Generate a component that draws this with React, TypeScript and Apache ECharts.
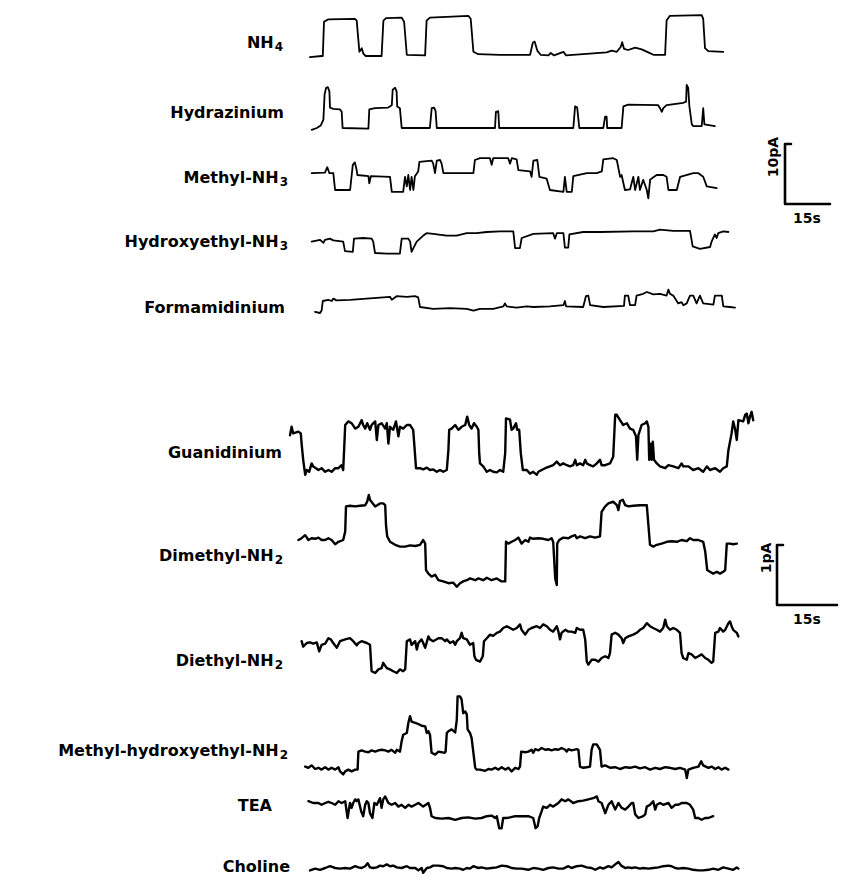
import React, { useEffect, useRef } from "react";
import * as echarts from "echarts";

type Pt = [number, number];

// ---------- Upper group: time (s), current (pA) relative to the closed level ----------
const NH4: Pt[] = [
  [3.3, -0.2], [7.2, 0], [7.6, 0], [8.0, 5.7], [9.4, 6.1], [18.3, 6.2], [18.9, 5.9], [19.8, 0.7],
  [20.6, 1.3], [21.1, 0.4], [21.9, 0], [27.2, 0], [27.8, 5.9], [28.7, 6.3], [33.9, 6.4], [34.7, 5.7],
  [35.6, 0.2], [41.7, 0.1], [42.2, 5.9], [43.3, 6.4], [56.1, 6.7], [56.9, 6.2], [57.8, 0.7], [59.4, 0.3],
  [66.7, 0.2], [76.7, 0.2], [77.6, 2.2], [78.2, 2.4], [79.1, 0.9], [80.2, 0.2], [82.8, 0.1], [83.6, 0.5],
  [84.7, 0.1], [87.8, 0.7], [88.7, 0.1], [102.2, 0.6], [103.9, 0.9], [105.6, 0.7], [106.9, 1.5],
  [107.4, 2.3], [108.0, 1.2], [109.4, 1.0], [111.7, 1.4], [113.9, 1.1], [116.1, 0.6], [117.8, 0.2],
  [121.7, 0.2], [122.2, 5.9], [123.3, 6.7], [133.9, 6.8], [134.4, 6.2], [135.0, 1.3], [136.1, 0.8],
  [141.1, 0.7],
];

const HYDRAZINIUM: Pt[] = [
  [3.9, -0.3], [5.6, 0], [6.9, 0.4], [7.8, 1.4], [8.2, 5.6], [8.7, 6.7], [9.3, 6.8], [9.8, 6.1],
  [10.0, 3.4], [11.1, 3.2], [13.3, 3.1], [13.9, 2.7], [14.2, 0], [22.8, -0.1], [23.1, 3.1], [25.0, 3.3],
  [29.4, 3.4], [30.6, 3.8], [30.9, 6.4], [31.7, 6.7], [32.2, 6.1], [32.4, 3.6], [33.3, 3.3], [33.9, 0],
  [43.3, 0], [43.9, 3.3], [44.7, 3.4], [45.2, 2.8], [45.6, 0], [65.0, 0], [65.3, 2.7], [66.1, 2.8],
  [66.4, 0], [91.1, 0], [91.7, 3.6], [92.4, 3.4], [93.1, 0], [101.1, 0], [101.7, 1.9], [102.2, 1.9],
  [102.4, 0], [107.2, 0], [107.8, 3.6], [109.4, 3.9], [119.4, 3.8], [120.0, 3.3], [120.6, 2.7],
  [121.1, 3.3], [122.2, 3.8], [127.8, 4.2], [128.7, 4.4], [128.9, 7.2], [129.4, 6.7], [129.8, 3.6],
  [130.6, 0.6], [131.1, 0.3], [133.9, 0.3], [134.4, 3.3], [134.8, 0.6], [138.3, 0.3],
];

const METHYL_NH3: Pt[] = [
  [3.9, 2.8], [8.3, 2.9], [9.1, 3.8], [9.8, 2.8], [11.1, 2.8], [11.7, 0], [16.7, 0], [17.6, 4.2],
  [18.3, 4.6], [18.9, 3.3], [19.1, 2.5], [22.8, 2.3], [23.1, 1.1], [23.6, 2.3], [30.0, 2.2], [30.6, -0.3],
  [34.4, -0.3], [35.0, 2.2], [35.6, 0.6], [36.1, 2.5], [36.7, 0], [37.2, 2.2], [37.8, 0], [38.3, 2.3],
  [39.4, 3.1], [39.8, 4.7], [43.9, 4.9], [44.4, 4.4], [45.0, 2.8], [45.6, 4.9], [46.7, 5.0], [47.2, 4.4],
  [47.8, 2.8], [57.8, 2.8], [58.3, 5.0], [60.0, 5.3], [63.3, 5.3], [63.9, 4.2], [64.4, 5.3], [69.4, 5.3],
  [70.0, 4.4], [70.6, 5.3], [72.2, 5.1], [72.8, 3.3], [76.7, 3.1], [77.2, 2.2], [77.8, 4.9], [79.1, 5.0],
  [79.8, 2.2], [82.2, 1.9], [83.3, 0], [87.8, -0.3], [88.3, 2.2], [88.9, -0.3], [90.6, -0.3], [91.1, 2.3],
  [95.6, 2.8], [98.9, 2.8], [100.6, 3.1], [101.1, 5.1], [104.4, 5.3], [105.6, 5.0], [106.7, 2.2],
  [107.2, 2.5], [108.3, 0], [110.0, 0.1], [111.1, 2.2], [111.7, 0], [112.8, 2.2], [113.3, 0], [114.4, 1.7],
  [115.6, 0], [116.1, -1.4], [116.7, 1.7], [117.2, 1.9], [118.9, 2.5], [121.1, 2.5], [122.2, 2.2],
  [122.8, 0], [125.6, 0], [126.7, 2.2], [131.1, 2.8], [132.8, 2.8], [134.4, 2.2], [135.6, 0.6], [138.9, 0.3],
];

const HYDROXYETHYL_NH3: Pt[] = [
  [3.9, 1.9], [6.7, 2.2], [7.8, 1.7], [8.3, 2.2], [10.0, 2.4], [11.1, 2.1], [14.4, 1.9], [15.0, 0.3],
  [17.6, 0.2], [18.0, 2.4], [21.1, 2.5], [23.9, 2.4], [24.4, 1.9], [25.0, 0], [28.9, -0.1], [33.3, -0.1],
  [33.9, 2.4], [36.1, 2.4], [36.7, 1.9], [37.2, 0.2], [37.8, 0.8], [38.9, 1.9], [41.1, 2.9], [42.2, 3.3],
  [44.4, 3.2], [48.9, 2.9], [52.2, 2.9], [55.6, 3.3], [58.9, 3.3], [62.2, 3.5], [66.7, 3.6], [71.1, 3.6],
  [71.7, 0.8], [73.3, 0.8], [73.9, 2.5], [77.8, 3.2], [84.4, 3.3], [85.0, 2.4], [85.6, 3.3], [87.8, 3.3],
  [88.3, 0.9], [89.4, 0.9], [89.8, 3.1], [94.4, 3.5], [100.0, 3.5], [111.1, 3.6], [117.8, 3.6],
  [120.0, 3.9], [124.4, 3.7], [130.0, 3.7], [130.9, 1.1], [133.3, 0.7], [136.7, 1.0], [137.2, 1.9],
  [138.3, 3.1], [138.9, 2.5], [139.4, 3.3], [141.1, 3.6], [142.8, 3.5],
];

const FORMAMIDINIUM: Pt[] = [
  [5.0, -0.8], [6.7, -1.0], [7.2, -0.6], [7.6, 1.0], [9.4, 1.2], [10.6, 1.0], [11.1, 1.4], [12.2, 1.1],
  [16.7, 1.2], [22.2, 1.4], [27.8, 1.6], [30.0, 1.7], [30.6, 1.2], [32.2, 1.8], [35.6, 1.7], [38.3, 1.8],
  [39.4, 1.6], [40.0, 0], [44.4, -0.3], [50.0, -0.2], [55.6, -0.3], [57.8, -0.6], [60.0, -0.3],
  [64.4, -0.3], [67.8, 0.1], [68.3, 0.6], [68.9, 0.1], [72.2, -0.1], [75.6, 0.1], [77.8, 0], [83.3, 0.1],
  [87.8, 0.3], [88.3, 1.0], [88.7, 0.1], [94.4, 0], [95.3, 1.8], [96.1, 1.9], [96.7, 0.3], [101.1, 0],
  [108.0, 0.2], [108.3, 1.9], [109.4, 1.9], [110.0, 0.3], [111.7, 0.3], [112.2, 1.9], [114.4, 2.2],
  [115.6, 2.5], [117.8, 2.1], [120.0, 2.2], [122.2, 1.9], [122.8, 2.9], [123.3, 2.2], [124.4, 1.9],
  [126.1, 0.6], [127.2, 0.8], [127.8, 0.3], [128.9, 0.6], [130.0, 1.9], [131.1, 1.9], [132.2, 0.6],
  [133.3, 1.9], [134.4, 0.6], [137.8, 0.4], [138.3, 1.9], [140.6, 1.9], [141.1, 0.1], [143.3, 0],
  [145.0, -0.1],
];

// ---------- Lower group: time (s), current (pA) ----------
const GUANIDINIUM: Pt[] = [
  [2.5, 0.58], [2.9, 0.72], [3.3, 0.61], [4.6, 0.64], [5.2, 0.61], [5.4, 0.44], [5.8, 0.17], [6.3, -0.08],
  [6.7, 0], [7.3, -0.03], [7.9, 0.11], [8.3, 0.06], [9.0, 0.03], [9.6, 0], [10.4, 0.03], [11.3, -0.03],
  [12.1, 0], [12.9, -0.03], [13.8, 0.03], [14.6, 0.03], [15.4, 0.08], [15.8, 0], [16.1, 0.44], [16.3, 0.75],
  [17.1, 0.81], [17.9, 0.78], [18.8, 0.69], [19.6, 0.72], [20.4, 0.83], [20.8, 0.75], [21.3, 0.69],
  [21.8, 0.78], [22.5, 0.67], [22.9, 0.75], [23.8, 0.81], [24.2, 0.5], [24.6, 0.75], [25.4, 0.78],
  [26.3, 0.69], [26.7, 0.78], [27.1, 0.44], [27.5, 0.72], [28.3, 0.67], [29.0, 0.81], [29.6, 0.56],
  [30.0, 0.72], [30.8, 0.69], [31.7, 0.75], [32.5, 0.75], [33.3, 0.67], [33.8, 0.22], [34.0, 0.03],
  [35.0, 0.03], [35.8, 0.01], [36.7, 0.04], [37.5, 0], [38.3, 0.01], [39.2, -0.03], [40.0, 0], [40.8, -0.03],
  [41.7, 0], [42.1, 0.33], [42.3, 0.67], [42.9, 0.69], [43.8, 0.75], [44.6, 0.67], [45.4, 0.72],
  [46.3, 0.75], [46.8, 0.89], [47.3, 0.75], [47.9, 0.69], [48.5, 0.78], [49.2, 0.72], [49.6, 0.67],
  [49.8, 0.28], [50.0, 0.11], [50.8, 0.06], [51.7, -0.03], [52.5, 0], [53.3, -0.03], [54.2, -0.04],
  [55.0, 0], [55.8, -0.03], [56.3, 0.28], [56.5, 0.86], [57.5, 0.84], [57.9, 0.67], [58.3, 0.69],
  [59.0, 0.78], [59.3, 0.67], [59.8, 0.67], [60.2, 0.28], [60.7, 0], [61.7, 0], [62.5, -0.06],
  [63.3, -0.03], [64.2, -0.08], [64.6, -0.03], [65.4, 0], [66.3, 0.03], [67.5, 0.06], [68.3, 0.08],
  [69.2, 0.14], [70.0, 0.08], [70.8, 0.11], [71.7, 0.08], [72.5, 0.06], [73.3, 0.08], [73.8, 0.17],
  [74.2, 0.08], [75.0, 0.11], [75.8, 0.08], [76.3, 0.17], [76.7, 0.11], [77.5, 0.08], [78.3, 0.06],
  [79.2, 0.11], [80.0, 0.17], [80.4, 0.08], [81.3, 0.08], [82.5, 0.11], [83.3, 0.22], [83.8, 0.92],
  [84.2, 0.92], [85.0, 0.83], [85.8, 0.75], [86.7, 0.78], [87.5, 0.69], [88.3, 0.67], [89.0, 0.56],
  [89.3, 0.17], [89.6, 0.58], [90.4, 0.75], [91.3, 0.78], [91.7, 0.81], [92.1, 0.72], [92.3, 0.17],
  [92.7, 0.44], [92.9, 0.17], [93.2, 0.47], [93.5, 0.17], [94.2, 0.11], [95.0, 0.06], [96.3, 0.03],
  [97.1, 0.08], [98.3, 0.06], [99.6, 0.03], [100.4, 0.11], [100.8, 0.06], [102.1, 0.06], [103.3, 0],
  [104.6, 0.03], [105.8, -0.03], [106.7, 0.06], [107.5, 0], [108.8, 0.03], [110.0, -0.03], [110.8, 0.03],
  [111.7, 0.06], [112.1, 0.33], [112.9, 0.61], [113.3, 0.81], [113.8, 0.67], [114.2, 0.5], [114.6, 0.83],
  [115.8, 0.81], [116.3, 0.92], [116.7, 0.94], [117.1, 0.78], [117.5, 0.89], [117.9, 0.97], [118.3, 0.83],
];

const DIMETHYL_NH2: Pt[] = [
  [4.6, 0], [5.4, 0.03], [6.3, 0.08], [7.1, 0], [7.9, 0.03], [8.8, 0.02], [9.6, 0.04], [10.4, 0],
  [11.3, 0], [12.1, 0.03], [12.9, 0], [13.8, -0.07], [14.6, -0.03], [15.8, 0], [16.3, 0.14], [16.5, 0.56],
  [17.5, 0.57], [18.8, 0.56], [20.0, 0.57], [21.3, 0.58], [21.8, 0.64], [22.2, 0.75], [22.5, 0.67],
  [23.2, 0.61], [23.8, 0.56], [24.3, 0.58], [25.0, 0.61], [25.8, 0.61], [26.3, 0.58], [26.5, 0.25],
  [26.8, 0.06], [27.5, -0.03], [28.8, -0.08], [30.0, -0.11], [31.3, -0.11], [32.5, -0.09], [33.8, -0.1],
  [35.0, -0.08], [35.8, 0], [36.3, -0.06], [36.5, -0.5], [37.1, -0.56], [37.9, -0.61], [38.8, -0.58],
  [39.6, -0.67], [40.8, -0.69], [42.1, -0.72], [43.3, -0.71], [44.2, -0.78], [45.0, -0.72], [45.8, -0.69],
  [46.7, -0.67], [47.5, -0.64], [48.8, -0.67], [49.6, -0.64], [50.8, -0.67], [51.7, -0.63], [52.9, -0.67],
  [54.2, -0.64], [55.4, -0.69], [56.3, -0.69], [56.5, -0.03], [57.1, -0.06], [57.9, -0.03], [58.8, 0],
  [59.6, 0.04], [60.4, -0.06], [61.3, 0], [62.1, -0.03], [62.5, 0.04], [63.3, 0.02], [64.6, 0.03],
  [65.8, 0.02], [67.1, 0], [67.9, 0.03], [68.3, -0.03], [68.8, -0.64], [69.2, -0.75], [69.3, -0.06],
  [69.8, 0], [70.8, 0.04], [72.1, 0.03], [72.9, 0.06], [73.8, 0.08], [74.2, 0.03], [75.0, 0.06],
  [76.3, 0.03], [77.5, 0.06], [78.8, 0.04], [80.0, 0.06], [80.4, 0.47], [81.3, 0.56], [82.1, 0.61],
  [83.3, 0.64], [84.2, 0.58], [84.6, 0.5], [85.0, 0.65], [85.7, 0.67], [86.3, 0.58], [87.1, 0.56],
  [88.3, 0.57], [90.0, 0.58], [91.7, 0.58], [92.1, 0.25], [92.5, -0.08], [93.3, -0.11], [94.2, -0.08],
  [95.4, -0.06], [96.7, -0.03], [97.9, -0.02], [99.2, -0.03], [100.4, 0], [101.7, -0.02], [102.5, 0.03],
  [103.3, 0], [104.6, 0], [105.8, -0.03], [106.3, -0.19], [106.8, -0.5], [107.5, -0.53], [108.3, -0.56],
  [109.2, -0.53], [110.0, -0.56], [110.8, -0.53], [111.3, -0.5], [111.7, -0.06], [112.5, -0.06],
  [113.3, -0.07], [114.2, -0.06],
];

const DIETHYL_NH2: Pt[] = [
  [5.4, 0.03], [5.8, -0.06], [6.7, 0], [7.5, 0.01], [8.3, -0.01], [9.2, 0.01], [9.8, -0.14], [10.4, -0.03],
  [11.3, -0.01], [12.1, 0.08], [12.7, 0.06], [13.3, 0], [14.2, -0.08], [15.0, 0.03], [16.3, 0.06],
  [17.5, 0.08], [18.3, 0.03], [19.2, -0.04], [19.6, 0], [20.4, 0.03], [21.7, 0], [22.5, -0.03],
  [22.9, -0.47], [23.8, -0.5], [24.6, -0.44], [25.4, -0.42], [25.8, -0.33], [26.7, -0.42], [27.5, -0.44],
  [28.3, -0.47], [29.2, -0.5], [30.0, -0.44], [30.8, -0.47], [31.3, -0.44], [31.7, 0.03], [32.5, 0.06],
  [32.9, -0.03], [33.8, 0.03], [34.2, -0.11], [34.6, 0], [35.4, 0.06], [35.8, 0], [36.3, -0.08],
  [37.1, 0.11], [37.5, 0.06], [38.3, 0.03], [39.6, 0.08], [40.4, 0.08], [41.3, 0.03], [41.7, 0.06],
  [42.5, 0], [43.3, 0.03], [43.8, -0.03], [44.2, 0.03], [45.0, 0.08], [45.4, 0.17], [45.8, 0.08],
  [46.7, 0.06], [47.5, -0.03], [48.3, 0], [48.6, -0.22], [49.0, -0.28], [50.0, -0.31], [50.7, -0.22],
  [51.0, 0.03], [51.7, 0.08], [52.5, 0.14], [53.3, 0.12], [54.2, 0.17], [55.0, 0.19], [55.8, 0.25],
  [56.7, 0.28], [57.5, 0.25], [58.3, 0.22], [59.2, 0.25], [60.0, 0.31], [60.4, 0.22], [61.3, 0.14],
  [62.1, 0.22], [62.9, 0.25], [64.2, 0.28], [65.0, 0.25], [65.8, 0.31], [66.7, 0.28], [67.5, 0.22],
  [68.3, 0.19], [69.2, 0.28], [69.6, 0.19], [70.0, 0.06], [70.4, 0.17], [71.3, 0.22], [72.1, 0.19],
  [72.9, 0.19], [73.8, 0.17], [74.2, 0.25], [75.0, 0.22], [75.8, 0.22], [76.3, 0.06], [76.7, -0.31],
  [77.1, -0.36], [77.9, -0.28], [78.8, -0.28], [79.6, -0.31], [80.4, -0.25], [81.3, -0.22], [82.1, -0.25],
  [82.5, -0.17], [82.9, 0.14], [83.8, 0.17], [84.6, 0.14], [85.4, 0.08], [85.8, 0], [86.3, 0.08],
  [87.1, 0.11], [88.3, 0.14], [89.2, 0.17], [90.0, 0.22], [90.8, 0.25], [91.7, 0.33], [92.5, 0.28],
  [93.3, 0.25], [94.2, 0.22], [95.0, 0.19], [95.8, 0.25], [96.3, 0.39], [96.7, 0.28], [97.5, 0.22],
  [98.3, 0.25], [99.2, 0.22], [100.0, 0.17], [100.4, -0.17], [100.8, -0.25], [101.7, -0.28], [102.1, -0.17],
  [102.9, -0.19], [103.8, -0.25], [104.6, -0.22], [105.4, -0.19], [106.3, -0.25], [107.1, -0.28],
  [107.9, -0.33], [108.3, -0.31], [108.8, 0.17], [109.6, 0.19], [110.0, 0.25], [110.8, 0.19], [111.3, 0.22],
  [112.1, 0.33], [112.5, 0.36], [112.9, 0.28], [113.3, 0.22], [114.2, 0.17], [114.6, 0.11],
];

const METHYL_HYDROXYETHYL_NH2: Pt[] = [
  [6.3, 0.04], [7.1, 0.02], [7.9, 0.06], [8.8, 0], [9.6, 0.02], [10.4, -0.01], [11.3, 0.03], [12.1, -0.01],
  [12.9, 0.02], [13.8, -0.01], [14.6, 0.03], [15.0, -0.04], [15.8, -0.09], [16.3, -0.04], [17.1, -0.01],
  [17.9, -0.04], [18.8, -0.01], [19.4, -0.01], [19.6, 0.29], [20.4, 0.31], [21.3, 0.29], [22.1, 0.28],
  [22.9, 0.31], [23.8, 0.29], [24.6, 0.31], [25.4, 0.32], [26.3, 0.31], [27.1, 0.29], [27.9, 0.32],
  [28.8, 0.27], [29.2, 0.32], [30.0, 0.29], [30.4, 0.46], [30.8, 0.57], [31.7, 0.6], [32.1, 0.77],
  [32.5, 0.88], [32.9, 0.79], [33.8, 0.77], [34.6, 0.75], [35.4, 0.72], [36.3, 0.71], [36.7, 0.6],
  [37.1, 0.63], [37.5, 0.57], [37.9, 0.27], [38.8, 0.24], [39.6, 0.29], [40.4, 0.28], [41.1, 0.27],
  [41.4, 0.29], [41.7, 0.6], [42.1, 0.63], [42.9, 0.66], [43.8, 0.61], [44.2, 0.82], [44.4, 1.21],
  [45.0, 1.21], [45.4, 1.16], [45.8, 0.93], [46.3, 0.96], [46.7, 0.91], [46.9, 0.66], [47.5, 0.6],
  [47.9, 0.52], [48.8, 0.02], [49.2, -0.01], [50.0, -0.01], [51.3, -0.03], [52.1, 0], [52.9, -0.01],
  [53.8, 0.02], [54.6, -0.01], [55.4, 0.03], [56.3, -0.01], [57.1, 0.02], [57.9, -0.04], [58.8, 0.02],
  [59.6, 0], [60.0, 0.04], [60.3, 0.29], [61.3, 0.28], [62.1, 0.29], [62.9, 0.32], [63.3, 0.27],
  [63.8, 0.33], [64.6, 0.31], [65.4, 0.35], [66.3, 0.32], [67.1, 0.33], [67.9, 0.31], [68.8, 0.33],
  [69.6, 0.32], [70.4, 0.35], [71.3, 0.32], [71.7, 0.29], [72.1, 0.33], [72.9, 0.31], [74.2, 0.33],
  [74.6, 0.32], [75.0, 0.04], [75.8, 0.02], [76.7, 0.03], [77.5, 0.04], [77.9, 0.32], [78.3, 0.41],
  [79.2, 0.41], [80.0, 0.32], [80.4, 0.04], [81.3, 0.06], [82.5, 0.02], [83.8, 0.03], [85.0, 0],
  [86.3, 0.03], [87.5, 0.02], [88.8, 0.04], [90.0, 0.01], [91.3, 0.03], [92.5, -0.01], [93.8, 0.02],
  [95.0, 0], [96.3, 0.03], [97.5, 0.02], [98.8, 0], [100.0, 0.02], [101.3, -0.01], [101.7, -0.15],
  [102.1, -0.01], [103.3, 0.02], [104.6, 0.04], [105.3, 0.13], [105.8, 0.06], [107.1, 0.02], [107.9, 0.04],
  [108.8, 0], [109.6, 0.03], [110.4, -0.01], [111.3, 0.02], [112.1, -0.01],
];

const TEA: Pt[] = [
  [7.1, 0.28], [8.3, 0.25], [9.6, 0.25], [10.4, 0.22], [11.3, 0.25], [12.1, 0.27], [12.9, 0.25],
  [13.8, 0.22], [14.6, 0.28], [15.4, 0.25], [16.3, 0.28], [16.9, 0], [17.5, 0.25], [17.9, 0.17],
  [18.3, 0.25], [18.8, 0.31], [19.2, 0.28], [19.6, 0.31], [20.3, 0.11], [20.8, 0.03], [21.3, 0.22],
  [21.7, 0.28], [22.1, 0.25], [22.5, 0.08], [23.1, 0], [23.6, 0.25], [24.2, 0.22], [25.0, 0.33],
  [25.4, 0.17], [25.8, 0.31], [26.3, 0.36], [27.1, 0.25], [27.9, 0.22], [28.8, 0.25], [29.6, 0.19],
  [30.4, 0.22], [31.3, 0.17], [32.1, 0.22], [32.9, 0.19], [33.8, 0.22], [34.6, 0.25], [35.8, 0.19],
  [37.1, 0.25], [37.5, 0.17], [37.9, 0.03], [38.8, 0], [40.4, -0.01], [42.1, 0], [43.8, -0.03], [45.4, 0],
  [47.1, 0.01], [48.8, -0.01], [50.4, 0], [51.7, 0.03], [52.9, 0.04], [53.8, 0], [54.2, 0.03],
  [54.8, -0.17], [55.4, -0.17], [55.8, 0], [56.7, 0], [57.5, 0.01], [58.8, 0.03], [60.4, 0.03],
  [62.1, 0.03], [63.3, 0], [63.9, -0.17], [64.4, -0.14], [64.8, 0], [65.4, 0.11], [65.8, 0.19],
  [66.7, 0.17], [67.5, 0.22], [68.3, 0.19], [69.6, 0.25], [70.4, 0.31], [71.3, 0.28], [72.1, 0.31],
  [73.3, 0.25], [74.6, 0.28], [75.8, 0.29], [77.1, 0.31], [78.3, 0.33], [79.2, 0.36], [79.6, 0.28],
  [80.4, 0.25], [81.3, 0.08], [82.1, 0.22], [82.9, 0.28], [83.8, 0.14], [84.6, 0.25], [85.4, 0.17],
  [86.3, 0.14], [87.1, 0.19], [87.9, 0.25], [88.3, 0.25], [88.8, 0.06], [89.6, 0], [90.8, 0.03],
  [91.3, 0.06], [91.7, 0.19], [92.5, 0.22], [93.3, 0.28], [93.8, 0.14], [94.2, 0.22], [95.0, 0.25],
  [95.8, 0.22], [97.1, 0.25], [97.9, 0.17], [98.8, 0.22], [99.6, 0.22], [100.4, 0.25], [101.7, 0.25],
  [102.5, 0.22], [103.3, 0.14], [103.8, 0], [104.6, 0], [105.4, -0.03], [106.3, 0], [107.1, 0],
  [108.3, 0.03],
];

const CHOLINE: Pt[] = [
  [7.5, -0.04], [8.8, -0.01], [10.0, -0.03], [11.3, 0], [12.5, 0.03], [13.8, 0], [15.0, -0.01], [16.3, 0],
  [17.5, -0.01], [18.8, 0.03], [19.6, 0.01], [20.4, 0], [21.3, 0.03], [21.9, 0.08], [22.5, 0.01],
  [23.3, 0], [24.2, 0.01], [25.0, 0.04], [25.8, 0.03], [26.7, 0.06], [27.5, 0.03], [28.3, 0.04],
  [29.2, 0.01], [30.4, 0], [31.7, 0.03], [32.5, 0], [33.8, 0], [34.6, -0.04], [35.4, 0], [35.8, -0.08],
  [36.7, 0], [37.5, 0.01], [38.3, 0.04], [39.6, 0.04], [40.8, 0.03], [41.7, 0], [42.9, -0.01], [43.8, 0],
  [45.0, -0.01], [45.8, -0.03], [46.7, 0], [47.5, -0.01], [48.3, 0.03], [49.6, 0], [50.4, 0.01],
  [51.7, -0.01], [52.9, 0], [54.2, 0.01], [55.4, 0.04], [56.7, 0.03], [57.9, 0], [59.2, -0.01],
  [60.4, -0.01], [62.1, -0.03], [63.3, 0], [64.6, -0.01], [65.8, -0.03], [67.1, 0], [68.3, 0.01],
  [69.6, -0.01], [70.8, -0.01], [72.1, 0.03], [72.9, 0], [74.2, 0.03], [75.4, 0.04], [76.7, 0.01],
  [77.9, 0], [78.8, -0.03], [80.0, 0.01], [80.8, -0.01], [82.1, 0.03], [82.9, 0.01], [83.8, 0.06],
  [84.6, 0.1], [85.3, 0.04], [86.3, 0], [87.1, 0.01], [87.9, 0], [88.8, 0.01], [90.0, -0.01], [90.8, 0],
  [92.1, -0.01], [93.3, 0], [94.6, 0.01], [95.8, 0.03], [97.1, 0.04], [97.9, 0.03], [98.8, 0],
  [99.6, -0.01], [100.8, 0], [102.1, -0.01], [103.3, -0.03], [104.6, -0.04], [105.8, -0.04],
  [107.1, -0.03], [108.3, -0.01], [109.6, -0.03], [110.8, 0.01], [112.1, -0.01], [113.3, -0.03],
  [114.2, 0.01], [114.6, -0.01],
];

// Calibration bars (s, pA)
const UPPER_BAR: Pt[] = [[2, 10], [0, 10], [0, 0], [15, 0]];
const LOWER_BAR: Pt[] = [[1.5, 1], [0, 1], [0, 0], [15, 0]];
const BAR_LABELS = { upper: ["10pA", "15s"], lower: ["1pA", "15s"] };

// Trace names: [main text, subscript]
const UPPER_NAMES: [string, string][] = [
  ["NH", "4"], ["Hydrazinium", ""], ["Methyl-NH", "3"], ["Hydroxyethyl-NH", "3"], ["Formamidinium", ""],
];
const LOWER_NAMES: [string, string][] = [
  ["Guanidinium", ""], ["Dimethyl-NH", "2"], ["Diethyl-NH", "2"], ["Methyl-hydroxyethyl-NH", "2"],
  ["TEA", ""], ["Choline", ""],
];

// ---------- layout ----------
const W = 845;
const H = 880;
const UPPER_PANEL = { x0: 300, pxPerS: 3, pxPerPA: 6, span: 150, range: 10, width: 1.8 };
const LOWER_PANEL = { x0: 280, pxPerS: 4, pxPerPA: 60, span: 120, range: 1.5, width: 2.4 };

const UPPER_ROWS = [
  { data: NH4, base: 56, labelY: 42, labelX: 283 },
  { data: HYDRAZINIUM, base: 128, labelY: 112, labelX: 284 },
  { data: METHYL_NH3, base: 190, labelY: 177, labelX: 288 },
  { data: HYDROXYETHYL_NH3, base: 253, labelY: 241, labelX: 288 },
  { data: FORMAMIDINIUM, base: 307, labelY: 307, labelX: 285 },
];
const LOWER_ROWS = [
  { data: GUANIDINIUM, base: 470, labelY: 452, labelX: 282 },
  { data: DIMETHYL_NH2, base: 540, labelY: 555, labelX: 283 },
  { data: DIETHYL_NH2, base: 643, labelY: 660, labelX: 283 },
  { data: METHYL_HYDROXYETHYL_NH2, base: 769, labelY: 750, labelX: 288 },
  { data: TEA, base: 818, labelY: 805, labelX: 272 },
  { data: CHOLINE, base: 868, labelY: 866, labelX: 290 },
];

const FONT = "'DejaVu Sans', 'Liberation Sans', sans-serif";

export default function App() {
  const ref = useRef<HTMLDivElement>(null);

  useEffect(() => {
    if (!ref.current) return;
    const chart = echarts.init(ref.current, null, { renderer: "svg" });

    const grid: any[] = [];
    const xAxis: any[] = [];
    const yAxis: any[] = [];
    const series: any[] = [];

    const addPlot = (
      data: Pt[],
      left: number,
      top: number,
      width: number,
      height: number,
      xMin: number,
      xMax: number,
      yMin: number,
      yMax: number,
      lineWidth: number
    ) => {
      const i = grid.length;
      grid.push({ left, top, width, height, containLabel: false, show: false });
      xAxis.push({ type: "value", gridIndex: i, min: xMin, max: xMax, show: false });
      yAxis.push({ type: "value", gridIndex: i, min: yMin, max: yMax, show: false });
      series.push({
        type: "line",
        xAxisIndex: i,
        yAxisIndex: i,
        data,
        symbol: "none",
        showSymbol: false,
        clip: false,
        silent: true,
        lineStyle: { color: "#000", width: lineWidth, join: "round", cap: "round" },
      });
    };

    // each trace gets a grid whose rectangle stays inside the canvas,
    // so the panel scale (px per s, px per pA) is kept exactly
    const addTraces = (rows: typeof UPPER_ROWS, p: typeof UPPER_PANEL) => {
      rows.forEach((r) => {
        const up = Math.min(p.range, (r.base - 1) / p.pxPerPA);
        const down = Math.min(p.range, (H - 1 - r.base) / p.pxPerPA);
        addPlot(
          r.data,
          p.x0,
          r.base - up * p.pxPerPA,
          p.span * p.pxPerS,
          (up + down) * p.pxPerPA,
          0,
          p.span,
          -down,
          up,
          p.width
        );
      });
    };
    addTraces(UPPER_ROWS, UPPER_PANEL);
    addTraces(LOWER_ROWS, LOWER_PANEL);

    // calibration bars share their panel's scales
    const upX = 785, upY = 204;
    addPlot(UPPER_BAR, upX, upY - 10 * UPPER_PANEL.pxPerPA, 15 * UPPER_PANEL.pxPerS, 10 * UPPER_PANEL.pxPerPA,
      0, 15, 0, 10, 2.6);
    const loX = 777, loY = 605;
    addPlot(LOWER_BAR, loX, loY - 1 * LOWER_PANEL.pxPerPA, 15 * LOWER_PANEL.pxPerS, 1 * LOWER_PANEL.pxPerPA,
      0, 15, 0, 1, 2.6);

    const labelStyle = (main: string, sub: string) => ({
      text: sub ? `{m|${main}}{s|${sub}}` : `{m|${main}}`,
      align: "right",
      textAlign: "right",
      verticalAlign: "middle",
      textVerticalAlign: "middle",
      rich: {
        m: { fontFamily: FONT, fontWeight: "bold", fontSize: 16, fill: "#000", lineHeight: 24, verticalAlign: "middle" },
        s: { fontFamily: FONT, fontWeight: "bold", fontSize: 12, fill: "#000", lineHeight: 24, padding: [10, 0, 0, 1], verticalAlign: "middle" },
      },
    });

    const graphic: any[] = [];
    UPPER_ROWS.forEach((r, k) => {
      graphic.push({ type: "text", x: r.labelX, y: r.labelY, silent: true, style: labelStyle(UPPER_NAMES[k][0], UPPER_NAMES[k][1]) });
    });
    LOWER_ROWS.forEach((r, k) => {
      graphic.push({ type: "text", x: r.labelX, y: r.labelY, silent: true, style: labelStyle(LOWER_NAMES[k][0], LOWER_NAMES[k][1]) });
    });

    const barText = (text: string, x: number, y: number, rotation = 0) => ({
      type: "text",
      x,
      y,
      rotation,
      silent: true,
      style: {
        text,
        fontFamily: FONT,
        fontWeight: "bold",
        fontSize: 14,
        fill: "#000",
        align: "center",
        textAlign: "center",
        verticalAlign: "middle",
        textVerticalAlign: "middle",
      },
    });
    graphic.push(barText(BAR_LABELS.upper[0], upX - 12, upY - 47, Math.PI / 2));
    graphic.push(barText(BAR_LABELS.upper[1], upX + 22, upY + 14));
    graphic.push(barText(BAR_LABELS.lower[0], loX - 11, loY - 47, Math.PI / 2));
    graphic.push(barText(BAR_LABELS.lower[1], loX + 30, loY + 14));

    chart.setOption({
      animation: false,
      backgroundColor: "#fff",
      grid,
      xAxis,
      yAxis,
      series,
      graphic,
    });

    return () => chart.dispose();
  }, []);

  return (
    <div
      ref={ref}
      style={{ position: "absolute", left: 0, top: 0, width: W, height: H }}
    />
  );
}
